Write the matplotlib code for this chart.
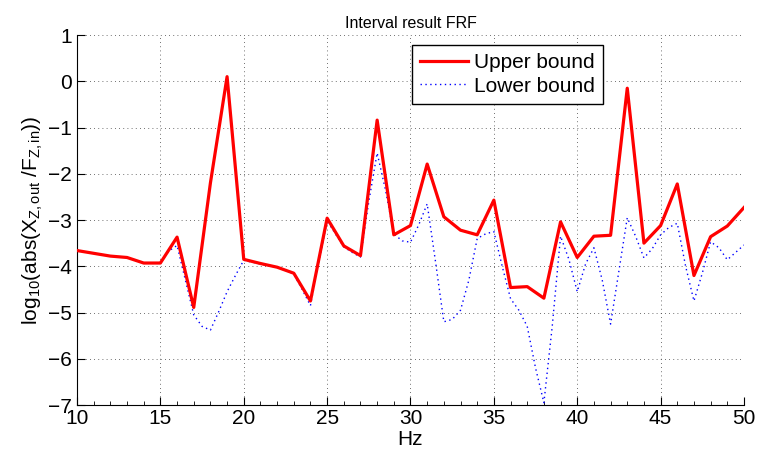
import matplotlib
matplotlib.use('Agg')
import matplotlib.pyplot as plt
from matplotlib.ticker import MultipleLocator
import numpy as np

plt.rcParams['font.family'] = ['Liberation Sans', 'DejaVu Sans']
plt.rcParams['mathtext.fontset'] = 'custom'
plt.rcParams['mathtext.rm'] = 'Liberation Sans'
plt.rcParams['mathtext.it'] = 'Liberation Sans'

# upper bound, one value per Hz (10..50)
freq_upper = np.arange(10, 51, 1)
upper = [-3.66, -3.72, -3.78, -3.81, -3.93, -3.93, -3.37, -4.89, -2.2, 0.1,
         -3.85, -3.94, -4.02, -4.15, -4.75, -2.96, -3.56, -3.77, -0.84, -3.32,
         -3.12, -1.79, -2.93, -3.22, -3.32, -2.57, -4.46, -4.44, -4.69, -3.04,
         -3.81, -3.35, -3.33, -0.15, -3.50, -3.12, -2.22, -4.20, -3.36, -3.13,
         -2.73]

# lower bound, one value per 0.5 Hz (10..50)
freq_lower = np.arange(10, 50.01, 0.5)
lower = [-3.66, -3.69, -3.72, -3.75, -3.78, -3.80, -3.81, -3.87, -3.93, -3.93,
         -3.93, -3.67, -3.55, -4.30, -5.05, -5.30, -5.38, -4.98, -4.55, -4.20,
         -3.87, -3.91, -3.95, -3.99, -4.02, -4.09, -4.17, -4.50, -4.85, -3.90,
         -3.02, -3.30, -3.58, -3.70, -3.80, -2.60, -1.55, -2.35, -3.30, -3.45,
         -3.48, -3.10, -2.65, -3.90, -5.20, -5.15, -4.95, -4.30, -3.40, -3.30,
         -3.25, -4.00, -4.70, -4.95, -5.30, -6.20, -6.95, -5.30, -3.35, -3.85,
         -4.55, -3.95, -3.60, -4.30, -5.25, -4.10, -2.95, -3.35, -3.82, -3.62,
         -3.32, -3.16, -3.07, -4.00, -4.75, -4.15, -3.47, -3.60, -3.86, -3.70,
         -3.54]

fig = plt.figure(figsize=(7.58, 4.59), dpi=100)
ax = fig.add_axes([0.1016, 0.1176, 0.8799, 0.8061])

ax.plot(freq_upper, upper, color='red', lw=2.3, label='Upper bound', zorder=3)
ax.plot(freq_lower, lower, color='blue', lw=1.0, linestyle=(0, (1, 2.5)),
        label='Lower bound', zorder=2)

ax.set_xlim(10, 50)
ax.set_ylim(-7, 1)
ax.xaxis.set_major_locator(MultipleLocator(5))
ax.xaxis.set_minor_locator(MultipleLocator(1))
ax.yaxis.set_major_locator(MultipleLocator(1))

ax.grid(True, which='major', color='0.25', linestyle=(0, (1, 4)), lw=0.6)
ax.spines['top'].set_visible(False)
ax.spines['right'].set_visible(False)
ax.tick_params(direction='in', labelsize=15, length=6, width=0.8)
ax.tick_params(which='minor', direction='in', length=3, width=0.6)
ax.tick_params(axis='x', pad=3)

ax.set_xlabel('Hz', fontsize=15, labelpad=1)
ax.set_ylabel(r'log$_{10}$(abs(X$_{Z,out}$ /F$_{Z,in}$))', fontsize=15, labelpad=2)
ax.set_title('Interval result FRF', fontsize=11.5, pad=5)

leg = ax.legend(loc='upper right', bbox_to_anchor=(0.789, 0.973), fontsize=15,
                fancybox=False, framealpha=1, edgecolor='black', borderaxespad=0,
                handlelength=2.3, handletextpad=0.3, borderpad=0.4, labelspacing=0.2)
leg.get_frame().set_linewidth(1.0)

fig.savefig('out.png', dpi=100)
